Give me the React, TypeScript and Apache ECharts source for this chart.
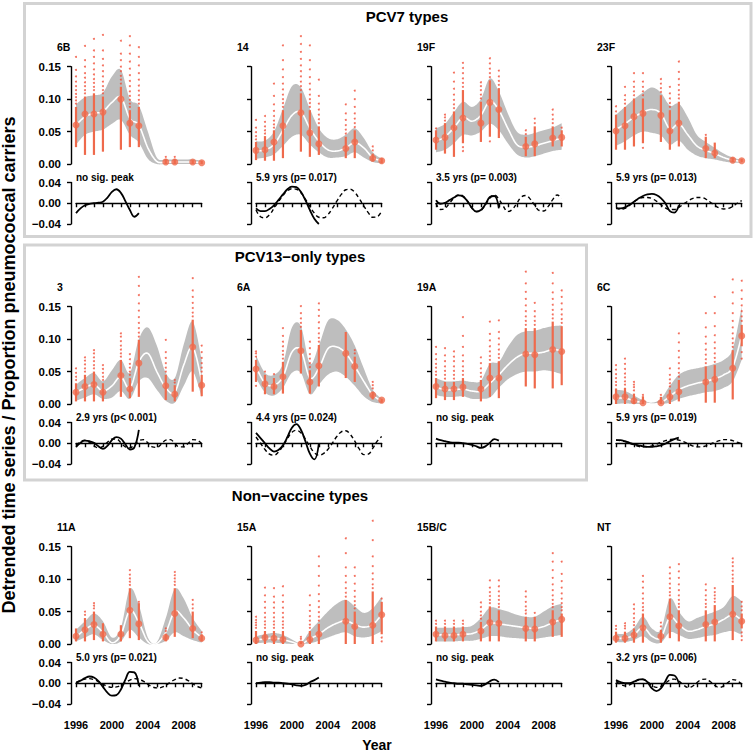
import React, { useEffect, useRef } from "react";
import * as echarts from "echarts";

// ---------- data ----------
const PANEL_NAMES = ["6B", "14", "19F", "23F", "3", "6A", "19A", "6C", "11A", "15A", "15B/C", "NT"];
const PEAK_TEXT = [
  "no sig. peak", "5.9 yrs (p= 0.017)", "3.5 yrs (p= 0.003)", "5.9 yrs (p= 0.013)",
  "2.9 yrs (p< 0.001)", "4.4 yrs (p= 0.024)", "no sig. peak", "5.9 yrs (p= 0.019)",
  "5.0 yrs (p= 0.021)", "no sig. peak", "no sig. peak", "3.2 yrs (p= 0.006)",
];
const SECTION_TITLES = ["PCV7 types", "PCV13\u2212only types", "Non\u2212vaccine types"];
const Y_TITLE = "Detrended time series / Proportion pneumococcal carriers";
const X_TITLE = "Year";

const OBS_YEARS = [1996, 1997, 1998, 1999, 2001, 2002, 2003, 2006, 2007, 2009, 2010];
const FIT_YEARS = [1996, 1997, 1998, 1999, 2000, 2001, 2002, 2003, 2004, 2005, 2006, 2007, 2008, 2009, 2010];
const SOLID_YEARS = [1996, 1996.5, 1997, 1997.5, 1998, 1998.5, 1999, 1999.5, 2000, 2000.5, 2001, 2001.5, 2002, 2002.5, 2003];
const DASH_YEARS = [1996, 1996.5, 1997, 1997.5, 1998, 1998.5, 1999, 1999.5, 2000, 2000.5, 2001, 2001.5, 2002, 2002.5, 2003,
  2003.5, 2004, 2004.5, 2005, 2005.5, 2006, 2006.5, 2007, 2007.5, 2008, 2008.5, 2009, 2009.5, 2010];
const X_LABEL_YEARS = [1996, 2000, 2004, 2008];

// yearly estimates (orange points) with interval bars
const POINT_MEAN = [
  [0.060, 0.077, 0.077, 0.080, 0.100, 0.063, 0.059, 0.003, 0.003, 0.003, 0.002],
  [0.021, 0.022, 0.034, 0.059, 0.079, 0.048, 0.031, 0.024, 0.034, 0.009, 0.005],
  [0.037, 0.041, 0.056, 0.071, 0.063, 0.095, 0.084, 0.027, 0.031, 0.040, 0.041],
  [0.051, 0.059, 0.073, 0.078, 0.075, 0.051, 0.063, 0.024, 0.017, 0.006, 0.005],
  [0.018, 0.027, 0.030, 0.018, 0.044, 0.023, 0.063, 0.028, 0.015, 0.088, 0.029],
  [0.054, 0.031, 0.027, 0.042, 0.082, 0.034, 0.059, 0.078, 0.058, 0.014, 0.006],
  [0.027, 0.023, 0.023, 0.026, 0.023, 0.040, 0.040, 0.077, 0.076, 0.084, 0.081],
  [0.011, 0.011, 0.005, 0.002, 0.002, 0.011, 0.019, 0.034, 0.038, 0.055, 0.105],
  [0.012, 0.022, 0.030, 0.015, 0.015, 0.052, 0.031, 0.010, 0.047, 0.024, 0.009],
  [0.006, 0.010, 0.009, 0.007, 0.000, 0.007, 0.015, 0.035, 0.027, 0.029, 0.045],
  [0.015, 0.013, 0.013, 0.015, 0.020, 0.033, 0.032, 0.024, 0.023, 0.034, 0.038],
  [0.009, 0.009, 0.014, 0.025, 0.012, 0.042, 0.028, 0.030, 0.034, 0.046, 0.035],
];
const BAR_LO = [
  [0.026, 0.014, 0.014, 0.019, 0.022, 0.026, 0.026, 0.000, 0.000, 0.000, 0.000],
  [0.006, 0.005, 0.005, 0.009, 0.019, 0.011, 0.014, 0.009, 0.009, 0.004, 0.001],
  [0.022, 0.016, 0.011, 0.032, 0.034, 0.042, 0.040, 0.012, 0.012, 0.027, 0.027],
  [0.022, 0.022, 0.027, 0.032, 0.034, 0.022, 0.027, 0.009, 0.009, 0.003, 0.003],
  [0.004, 0.004, 0.004, 0.004, 0.011, 0.009, 0.011, 0.006, 0.004, 0.019, 0.012],
  [0.034, 0.015, 0.015, 0.016, 0.047, 0.016, 0.027, 0.040, 0.034, 0.007, 0.002],
  [0.009, 0.006, 0.006, 0.011, 0.004, 0.011, 0.009, 0.027, 0.024, 0.024, 0.029],
  [0.000, 0.000, 0.000, 0.000, 0.000, 0.000, 0.004, 0.002, 0.002, 0.007, 0.089],
  [0.004, 0.004, 0.006, 0.004, 0.004, 0.009, 0.006, 0.004, 0.011, 0.009, 0.004],
  [0.000, 0.000, 0.000, 0.000, 0.000, 0.000, 0.000, 0.000, 0.000, 0.000, 0.015],
  [0.004, 0.004, 0.004, 0.004, 0.004, 0.004, 0.004, 0.004, 0.004, 0.011, 0.011],
  [0.002, 0.002, 0.002, 0.002, 0.002, 0.009, 0.004, 0.004, 0.004, 0.006, 0.024],
];
const BAR_HI = [
  [0.088, 0.104, 0.109, 0.104, 0.119, 0.083, 0.088, 0.008, 0.008, 0.006, 0.005],
  [0.034, 0.043, 0.052, 0.083, 0.109, 0.083, 0.058, 0.042, 0.052, 0.016, 0.009],
  [0.052, 0.063, 0.081, 0.114, 0.096, 0.129, 0.117, 0.042, 0.058, 0.058, 0.052],
  [0.076, 0.088, 0.101, 0.101, 0.106, 0.083, 0.096, 0.042, 0.033, 0.010, 0.008],
  [0.032, 0.045, 0.050, 0.032, 0.068, 0.040, 0.099, 0.045, 0.029, 0.130, 0.045],
  [0.068, 0.045, 0.040, 0.065, 0.114, 0.052, 0.091, 0.111, 0.073, 0.019, 0.008],
  [0.040, 0.034, 0.034, 0.040, 0.037, 0.063, 0.066, 0.117, 0.117, 0.127, 0.120],
  [0.024, 0.025, 0.016, 0.012, 0.011, 0.022, 0.037, 0.058, 0.060, 0.083, 0.122],
  [0.024, 0.040, 0.050, 0.032, 0.029, 0.086, 0.063, 0.016, 0.086, 0.050, 0.015],
  [0.020, 0.020, 0.020, 0.020, 0.004, 0.020, 0.031, 0.068, 0.050, 0.081, 0.065],
  [0.027, 0.027, 0.027, 0.027, 0.034, 0.058, 0.052, 0.042, 0.042, 0.052, 0.047],
  [0.019, 0.019, 0.024, 0.047, 0.022, 0.070, 0.052, 0.052, 0.060, 0.091, 0.047],
];
// individual small samples outside the bars, per observed year
const DOTS = [
  [[0.093, 0.098, 0.103, 0.108, 0.114, 0.12, 0.127, 0.135, 0.145, 0.165], [0.109, 0.114, 0.12, 0.126, 0.133, 0.14, 0.15, 0.16, 0.182], [0.114, 0.119, 0.125, 0.131, 0.138, 0.146, 0.155, 0.165, 0.175, 0.193], [0.109, 0.114, 0.12, 0.127, 0.135, 0.143, 0.152, 0.162, 0.175, 0.199], [0.124, 0.13, 0.136, 0.143, 0.15, 0.16, 0.17, 0.19], [0.088, 0.093, 0.099, 0.105, 0.112, 0.12, 0.128, 0.137, 0.147, 0.158, 0.17, 0.183, 0.197], [0.093, 0.099, 0.106, 0.113, 0.121, 0.13, 0.14, 0.152, 0.165, 0.18], [0.011], [0.011], [], []],
  [[0.038, 0.043, 0.049, 0.056, 0.068], [0.047, 0.052, 0.058, 0.065, 0.074], [0.056, 0.061, 0.067, 0.074, 0.082, 0.092, 0.105, 0.124], [0.088, 0.094, 0.1, 0.107, 0.115, 0.124, 0.134, 0.146, 0.16, 0.183], [0.114, 0.12, 0.127, 0.135, 0.143, 0.152, 0.162, 0.173, 0.185, 0.197], [0.088, 0.094, 0.1, 0.107, 0.115, 0.124, 0.134, 0.146, 0.16, 0.183], [0.063, 0.069, 0.076, 0.084, 0.093, 0.105, 0.13], [0.047, 0.053, 0.06, 0.068, 0.078, 0.092], [0.057, 0.063, 0.07, 0.078, 0.088, 0.1, 0.113], [0.021, 0.027], []],
  [[0.055], [0.067, 0.072, 0.076], [0.086, 0.092, 0.099, 0.107, 0.116, 0.127, 0.141], [0.02, 0.026, 0.119, 0.125, 0.132, 0.14, 0.148, 0.156], [0.101, 0.107, 0.114, 0.12, 0.126], [0.035, 0.134, 0.14, 0.147, 0.155, 0.163], [0.122, 0.128, 0.135, 0.144], [0.046, 0.052], [0.063, 0.07], [0.063, 0.069, 0.076, 0.084], [0.056]],
  [[0.081, 0.089], [0.093, 0.099, 0.106, 0.119], [0.106, 0.112, 0.119, 0.127, 0.14], [0.025, 0.106, 0.112, 0.119, 0.127, 0.14], [0.111, 0.117, 0.124, 0.131], [0.088, 0.094, 0.101, 0.109, 0.119], [0.101, 0.107, 0.114, 0.122, 0.131, 0.142, 0.158], [0.045], [], [], []],
  [[0.037, 0.042, 0.048, 0.055], [0.05, 0.055, 0.061, 0.067, 0.072], [0.055, 0.06, 0.066, 0.072, 0.078, 0.083], [0.037, 0.042, 0.048, 0.054, 0.06], [0.073, 0.078, 0.084, 0.09, 0.097, 0.104, 0.109], [0.045, 0.05, 0.056, 0.062, 0.069, 0.077], [0.104, 0.11, 0.117, 0.125, 0.134, 0.144, 0.155, 0.168, 0.182, 0.196], [0.05, 0.056, 0.063, 0.071, 0.08, 0.099], [0.033, 0.037], [0.135, 0.141, 0.148, 0.156, 0.165, 0.175, 0.194], [0.05, 0.056, 0.063, 0.071, 0.08, 0.09]],
  [[0.028, 0.073, 0.078, 0.081], [0.05], [0.046], [0.07, 0.076, 0.082, 0.089, 0.096, 0.105, 0.117], [0.119, 0.125, 0.132, 0.14, 0.151], [0.057, 0.063, 0.07, 0.077, 0.086, 0.096], [0.096, 0.102, 0.109, 0.117, 0.126, 0.136, 0.145, 0.155], [], [0.078, 0.083], [0.024, 0.029, 0.034], []],
  [[0.045, 0.05, 0.056, 0.062, 0.069, 0.077, 0.088], [0.039, 0.045, 0.051, 0.058, 0.066, 0.075, 0.086], [0.039, 0.045, 0.051, 0.058, 0.066, 0.073, 0.081], [0.045, 0.051, 0.058, 0.066, 0.075, 0.088, 0.105, 0.134], [0.042, 0.048, 0.055, 0.063, 0.072], [0.068, 0.074, 0.081, 0.089, 0.098, 0.108, 0.127], [0.071, 0.077, 0.084, 0.092, 0.101, 0.111, 0.129], [0.122, 0.128, 0.135, 0.143, 0.152, 0.162, 0.173, 0.186, 0.204], [0.122, 0.128, 0.135, 0.143, 0.156], [0.132, 0.138, 0.145, 0.153, 0.162, 0.172, 0.186, 0.202], [0.125, 0.131, 0.138, 0.146, 0.155, 0.165, 0.175]],
  [[0.029, 0.034, 0.04, 0.046, 0.053, 0.06], [0.03, 0.035, 0.041, 0.047, 0.054, 0.062, 0.07], [0.021, 0.026, 0.03, 0.034], [0.014], [0.014], [0.027, 0.032, 0.038, 0.045, 0.055], [0.042, 0.048, 0.055, 0.063, 0.072, 0.082, 0.095, 0.109], [0.063, 0.069, 0.076, 0.084, 0.093, 0.104, 0.118, 0.14], [0.065, 0.071, 0.078, 0.086, 0.095, 0.106, 0.12, 0.14, 0.165], [0.088, 0.094, 0.101, 0.109, 0.118, 0.128, 0.14, 0.155, 0.172, 0.192], [0.07, 0.08, 0.128, 0.135, 0.143, 0.152, 0.162, 0.175, 0.19]],
  [[], [0.045, 0.05], [0.055, 0.059, 0.063], [], [], [0.091, 0.096, 0.101, 0.107, 0.114], [0.065], [0.02, 0.024], [0.091, 0.096, 0.101, 0.106, 0.111], [0.055, 0.061, 0.068], [0.018]],
  [[0.025, 0.029, 0.033, 0.037, 0.042], [0.025, 0.03, 0.035, 0.041, 0.048, 0.056, 0.065, 0.075, 0.087], [0.025, 0.03, 0.035, 0.041, 0.048, 0.056, 0.064, 0.073, 0.086], [0.025, 0.03, 0.035, 0.041, 0.048, 0.056, 0.065, 0.075, 0.089], [0.008, 0.011], [0.025, 0.03, 0.036, 0.043, 0.051, 0.06, 0.075], [0.036, 0.042, 0.049, 0.057, 0.066, 0.077, 0.09, 0.105, 0.12, 0.135], [0.073, 0.079, 0.086, 0.095, 0.105, 0.118, 0.14, 0.163], [0.055, 0.06, 0.066, 0.073, 0.082, 0.093, 0.105, 0.118], [0.086, 0.092, 0.1, 0.109, 0.12, 0.135, 0.16, 0.19], [0.004, 0.01, 0.07]],
  [[0.031, 0.036], [0.031, 0.036], [0.031, 0.036], [0.031, 0.036], [0.039, 0.044, 0.05, 0.057, 0.064], [0.063, 0.068, 0.074, 0.08, 0.087, 0.098], [0.057, 0.062, 0.068, 0.074, 0.081, 0.089, 0.098], [0.047, 0.052, 0.058, 0.065, 0.073, 0.081], [0.048], [0.057, 0.062, 0.068, 0.075, 0.083, 0.092, 0.102, 0.114, 0.127, 0.14], [0.052, 0.057, 0.063, 0.07, 0.078, 0.087, 0.097, 0.108, 0.127]],
  [[0.023, 0.028], [0.024, 0.028, 0.032], [0.029, 0.034, 0.04, 0.047, 0.054, 0.061], [0.052, 0.057, 0.063, 0.07, 0.078, 0.087, 0.096, 0.105], [0.027, 0.033], [0.075, 0.08, 0.086, 0.093, 0.101, 0.109, 0.118], [0.057, 0.062, 0.068, 0.075, 0.083, 0.092, 0.102, 0.112, 0.123], [0.057, 0.062, 0.068, 0.075, 0.083, 0.092], [0.065, 0.07, 0.075, 0.08, 0.086], [0.096, 0.101, 0.107, 0.113, 0.12, 0.126, 0.132], [0.006, 0.012, 0.018, 0.052, 0.058, 0.065]],
];
// smooth fit (white line) and its band, at FIT_YEARS
const BAND_MID = [
  [0.060, 0.073, 0.078, 0.081, 0.095, 0.103, 0.070, 0.060, 0.025, 0.004, 0.003, 0.003, 0.003, 0.003, 0.002],
  [0.020, 0.022, 0.030, 0.052, 0.075, 0.080, 0.055, 0.035, 0.022, 0.020, 0.025, 0.033, 0.025, 0.010, 0.005],
  [0.035, 0.042, 0.056, 0.072, 0.066, 0.075, 0.097, 0.083, 0.055, 0.030, 0.026, 0.028, 0.032, 0.036, 0.040],
  [0.053, 0.062, 0.072, 0.080, 0.084, 0.078, 0.054, 0.062, 0.045, 0.028, 0.021, 0.016, 0.010, 0.006, 0.004],
  [0.018, 0.025, 0.030, 0.020, 0.028, 0.042, 0.024, 0.065, 0.078, 0.050, 0.025, 0.018, 0.060, 0.088, 0.035],
  [0.057, 0.032, 0.029, 0.042, 0.080, 0.083, 0.040, 0.055, 0.085, 0.088, 0.078, 0.058, 0.035, 0.014, 0.005],
  [0.026, 0.022, 0.022, 0.023, 0.020, 0.020, 0.032, 0.045, 0.060, 0.072, 0.078, 0.078, 0.080, 0.084, 0.082],
  [0.009, 0.009, 0.005, 0.002, 0.000, 0.002, 0.012, 0.022, 0.028, 0.032, 0.035, 0.039, 0.045, 0.057, 0.105],
  [0.011, 0.022, 0.029, 0.018, 0.002, 0.014, 0.052, 0.033, 0.004, 0.001, 0.018, 0.050, 0.040, 0.022, 0.010],
  [0.006, 0.008, 0.009, 0.007, 0.003, 0.000, 0.008, 0.015, 0.025, 0.032, 0.036, 0.030, 0.026, 0.030, 0.045],
  [0.014, 0.014, 0.014, 0.015, 0.016, 0.022, 0.032, 0.031, 0.029, 0.027, 0.025, 0.024, 0.027, 0.033, 0.038],
  [0.009, 0.009, 0.014, 0.026, 0.012, 0.010, 0.041, 0.030, 0.020, 0.022, 0.027, 0.031, 0.038, 0.045, 0.037],
];
const BAND_LO = [
  [0.030, 0.045, 0.050, 0.053, 0.062, 0.068, 0.045, 0.033, 0.008, 0.000, 0.000, 0.000, 0.000, 0.000, 0.000],
  [0.008, 0.010, 0.015, 0.028, 0.042, 0.045, 0.030, 0.018, 0.010, 0.010, 0.012, 0.018, 0.010, 0.003, 0.001],
  [0.018, 0.022, 0.032, 0.045, 0.044, 0.050, 0.062, 0.052, 0.032, 0.015, 0.010, 0.012, 0.016, 0.020, 0.022],
  [0.028, 0.035, 0.044, 0.050, 0.048, 0.044, 0.030, 0.036, 0.022, 0.013, 0.009, 0.007, 0.004, 0.002, 0.002],
  [0.005, 0.010, 0.015, 0.008, 0.010, 0.020, 0.008, 0.035, 0.040, 0.022, 0.005, 0.002, 0.028, 0.050, 0.010],
  [0.040, 0.018, 0.013, 0.025, 0.048, 0.048, 0.015, 0.030, 0.045, 0.050, 0.042, 0.028, 0.012, 0.003, 0.001],
  [0.014, 0.011, 0.011, 0.012, 0.008, 0.008, 0.010, 0.025, 0.038, 0.046, 0.050, 0.050, 0.052, 0.050, 0.046],
  [0.000, 0.001, 0.000, 0.000, 0.000, 0.000, 0.002, 0.008, 0.012, 0.015, 0.018, 0.020, 0.025, 0.035, 0.068],
  [0.004, 0.010, 0.015, 0.006, 0.000, 0.004, 0.022, 0.010, 0.000, 0.000, 0.005, 0.018, 0.012, 0.006, 0.002],
  [0.001, 0.002, 0.002, 0.001, 0.000, 0.000, 0.001, 0.005, 0.010, 0.015, 0.018, 0.012, 0.010, 0.013, 0.020],
  [0.004, 0.004, 0.004, 0.005, 0.005, 0.008, 0.012, 0.012, 0.010, 0.009, 0.008, 0.008, 0.010, 0.012, 0.014],
  [0.003, 0.003, 0.006, 0.012, 0.003, 0.002, 0.018, 0.014, 0.008, 0.009, 0.012, 0.014, 0.018, 0.020, 0.014],
];
const BAND_HI = [
  [0.092, 0.103, 0.106, 0.110, 0.135, 0.145, 0.100, 0.090, 0.050, 0.010, 0.007, 0.007, 0.007, 0.007, 0.005],
  [0.035, 0.036, 0.050, 0.085, 0.120, 0.118, 0.085, 0.055, 0.040, 0.038, 0.045, 0.055, 0.040, 0.018, 0.008],
  [0.055, 0.062, 0.080, 0.096, 0.088, 0.100, 0.132, 0.112, 0.078, 0.050, 0.045, 0.048, 0.052, 0.056, 0.063],
  [0.076, 0.088, 0.100, 0.110, 0.118, 0.110, 0.090, 0.093, 0.072, 0.045, 0.034, 0.025, 0.016, 0.010, 0.006],
  [0.030, 0.040, 0.048, 0.035, 0.052, 0.068, 0.048, 0.100, 0.118, 0.090, 0.048, 0.040, 0.092, 0.127, 0.068],
  [0.075, 0.048, 0.045, 0.062, 0.118, 0.120, 0.062, 0.090, 0.128, 0.130, 0.115, 0.090, 0.055, 0.022, 0.008],
  [0.040, 0.035, 0.035, 0.036, 0.034, 0.036, 0.062, 0.065, 0.088, 0.106, 0.112, 0.113, 0.117, 0.120, 0.121],
  [0.022, 0.020, 0.013, 0.006, 0.002, 0.008, 0.028, 0.045, 0.052, 0.055, 0.058, 0.062, 0.068, 0.085, 0.150],
  [0.022, 0.035, 0.047, 0.035, 0.010, 0.025, 0.085, 0.060, 0.010, 0.003, 0.040, 0.085, 0.070, 0.040, 0.020],
  [0.012, 0.015, 0.017, 0.014, 0.007, 0.002, 0.020, 0.035, 0.050, 0.062, 0.068, 0.058, 0.048, 0.055, 0.073],
  [0.025, 0.025, 0.025, 0.026, 0.028, 0.040, 0.056, 0.054, 0.050, 0.045, 0.042, 0.042, 0.050, 0.058, 0.062],
  [0.016, 0.016, 0.025, 0.042, 0.024, 0.022, 0.070, 0.050, 0.035, 0.040, 0.045, 0.050, 0.057, 0.074, 0.066],
];
// detrended series (solid, SOLID_YEARS) and fitted periodic component (dashed, DASH_YEARS)
const SOLID = [
  [-0.019, -0.010, -0.004, -0.001, 0.000, 0.001, 0.003, 0.011, 0.022, 0.027, 0.020, 0.004, -0.013, -0.026, -0.019],
  [-0.010, -0.015, -0.015, -0.011, -0.004, 0.006, 0.017, 0.027, 0.032, 0.031, 0.022, 0.006, -0.013, -0.030, -0.040],
  [0.006, -0.001, 0.001, 0.006, 0.011, 0.015, 0.013, 0.004, -0.009, -0.016, -0.013, -0.002, 0.012, 0.014, -0.010],
  [-0.010, -0.010, -0.008, -0.003, 0.003, 0.009, 0.014, 0.017, 0.018, 0.016, 0.010, 0.000, -0.015, -0.018, -0.004],
  [-0.007, 0.001, 0.005, 0.004, 0.001, -0.006, -0.011, -0.005, 0.006, 0.012, 0.009, -0.002, -0.012, -0.008, 0.026],
  [0.020, 0.010, 0.000, -0.010, -0.016, -0.013, -0.004, 0.012, 0.030, 0.037, 0.026, 0.004, -0.020, -0.031, 0.000],
  [0.009, 0.006, 0.004, 0.002, 0.001, 0.001, 0.000, -0.001, -0.003, -0.006, -0.009, -0.006, 0.001, 0.008, 0.005],
  [0.006, 0.006, 0.004, 0.001, -0.002, -0.004, -0.006, -0.007, -0.007, -0.006, -0.004, -0.001, 0.004, 0.008, 0.011],
  [0.001, 0.005, 0.010, 0.013, 0.011, 0.004, -0.007, -0.018, -0.024, -0.023, -0.012, 0.007, 0.022, 0.021, -0.005],
  [0.000, 0.001, 0.002, 0.002, 0.001, 0.001, 0.000, -0.001, -0.002, -0.004, -0.005, -0.003, 0.002, 0.006, 0.011],
  [0.0075, 0.005, 0.003, 0.001, 0.000, -0.001, -0.001, -0.002, -0.003, -0.004, -0.005, -0.002, 0.004, 0.007, 0.002],
  [0.006, 0.002, 0.000, 0.000, 0.003, 0.007, 0.008, 0.002, -0.010, -0.015, -0.010, 0.004, 0.016, 0.015, 0.000],
];
const DASHED = [
  null,
  [-0.013, -0.026, -0.028, -0.022, -0.010, 0.003, 0.015, 0.024, 0.028, 0.027, 0.020, 0.008, -0.006, -0.019, -0.027, -0.028, -0.022, -0.010, 0.004, 0.017, 0.026, 0.027, 0.021, 0.009, -0.005, -0.018, -0.027, -0.026, -0.015],
  [0.000, -0.012, -0.010, 0.000, 0.010, 0.016, 0.014, 0.004, -0.009, -0.016, -0.014, -0.003, 0.010, 0.016, 0.008, -0.006, -0.016, -0.012, 0.000, 0.012, 0.015, 0.008, -0.004, -0.014, -0.015, -0.006, 0.007, 0.016, 0.010],
  [-0.008, -0.012, -0.010, -0.004, 0.003, 0.008, 0.011, 0.011, 0.009, 0.004, -0.003, -0.009, -0.012, -0.012, -0.008, -0.002, 0.004, 0.009, 0.011, 0.011, 0.008, 0.002, -0.004, -0.009, -0.011, -0.010, -0.006, 0.000, 0.005],
  [-0.004, 0.003, 0.006, 0.002, -0.005, -0.009, -0.006, 0.002, 0.008, 0.008, 0.001, -0.007, -0.009, -0.003, 0.005, 0.007, 0.001, -0.007, -0.008, -0.002, 0.006, 0.007, 0.000, -0.007, -0.007, 0.000, 0.007, 0.006, -0.001],
  [0.012, 0.000, -0.012, -0.021, -0.023, -0.017, -0.005, 0.009, 0.021, 0.025, 0.020, 0.008, -0.006, -0.018, -0.023, -0.020, -0.012, 0.000, 0.013, 0.022, 0.024, 0.017, 0.004, -0.011, -0.022, -0.021, -0.010, 0.004, 0.013],
  null,
  [0.006, 0.005, 0.003, 0.000, -0.003, -0.006, -0.007, -0.007, -0.005, -0.002, 0.002, 0.005, 0.007, 0.008, 0.006, 0.003, -0.001, -0.005, -0.007, -0.007, -0.005, -0.002, 0.002, 0.005, 0.007, 0.007, 0.005, 0.002, -0.001],
  [0.001, 0.005, 0.008, 0.009, 0.007, 0.003, -0.002, -0.006, -0.008, -0.007, -0.004, 0.001, 0.006, 0.009, 0.008, 0.004, -0.002, -0.007, -0.009, -0.008, -0.004, 0.002, 0.007, 0.010, 0.009, 0.005, -0.001, -0.006, -0.009],
  null,
  null,
  [0.003, -0.002, -0.005, -0.003, 0.002, 0.006, 0.007, 0.003, -0.004, -0.008, -0.006, 0.000, 0.006, 0.008, 0.004, -0.003, -0.008, -0.006, 0.001, 0.007, 0.008, 0.003, -0.004, -0.008, -0.005, 0.002, 0.007, 0.005, -0.002],
];

// ---------- layout & style ----------
const FONT = '"Liberation Sans", Arial, Helvetica, sans-serif';
const ORANGE = "#EF6A4C";
const DOT_COLOR = "#F04A33";
const BAND_COLOR = "#BEBEBE";
const BOX_COLOR = "#D3D3D3";
const COL_X0 = 76;
const COL_STEP = 180;
const PLOT_W = 125.7;
const ROW_STEP = 240;
const TOP_Y = 66.7;
const TOP_H = 97.3;
const BOT_Y = 182.5;
const BOT_H = 41.5;

const axisLineStyle = { show: true, lineStyle: { color: "#000", width: 1.4 } };
const axisTickStyle = { show: true, length: 4, lineStyle: { color: "#000", width: 1.4 } };

// Catmull-Rom rendering of a pixel polyline (drawing only)
function splinePx(pts: number[][], seg = 10): number[][] {
  const out: number[][] = [];
  const n = pts.length;
  for (let i = 0; i < n - 1; i++) {
    const p0 = pts[Math.max(i - 1, 0)];
    const p1 = pts[i];
    const p2 = pts[i + 1];
    const p3 = pts[Math.min(i + 2, n - 1)];
    for (let s = 0; s < seg; s++) {
      const t = s / seg;
      const t2 = t * t;
      const t3 = t2 * t;
      const f = (a: number, b: number, c: number, d: number) =>
        0.5 * (2 * b + (-a + c) * t + (2 * a - 5 * b + 4 * c - d) * t2 + (-a + 3 * b - 3 * c + d) * t3);
      out.push([f(p0[0], p1[0], p2[0], p3[0]), f(p0[1], p1[1], p2[1], p3[1])]);
    }
  }
  out.push(pts[n - 1]);
  return out;
}

function buildOption() {
  const grid: any[] = [];
  const xAxis: any[] = [];
  const yAxis: any[] = [];
  const series: any[] = [];
  const graphic: any[] = [];

  PANEL_NAMES.forEach((name, i) => {
    const r = Math.floor(i / 4);
    const c = i % 4;
    const left = COL_X0 + c * COL_STEP;
    const gTop = 2 * i;
    const gBot = 2 * i + 1;
    grid.push({ left, top: TOP_Y + r * ROW_STEP, width: PLOT_W, height: TOP_H });
    grid.push({ left, top: BOT_Y + r * ROW_STEP, width: PLOT_W, height: BOT_H });

    xAxis.push({ type: "value", gridIndex: gTop, min: 1996, max: 2010, show: false });
    xAxis.push({
      type: "value", gridIndex: gBot, min: 1996, max: 2010, interval: 1, offset: 4.3,
      axisLine: axisLineStyle, axisTick: axisTickStyle, splitLine: { show: false },
      axisLabel: {
        show: r === 2, margin: 11, color: "#000", fontFamily: FONT, fontWeight: "bold", fontSize: 11,
        formatter: (v: number) => (X_LABEL_YEARS.indexOf(Math.round(v)) >= 0 ? String(Math.round(v)) : ""),
      },
    });
    yAxis.push({
      type: "value", gridIndex: gTop, min: 0, max: 0.15, interval: 0.05, offset: 5,
      axisLine: axisLineStyle, axisTick: axisTickStyle, splitLine: { show: false },
      axisLabel: {
        show: c === 0, margin: 10, color: "#000", fontFamily: FONT, fontWeight: "bold", fontSize: 11.5,
        showMinLabel: true, showMaxLabel: true,
        formatter: (v: number) => v.toFixed(2),
      },
    });
    yAxis.push({
      type: "value", gridIndex: gBot, min: -0.04, max: 0.04, interval: 0.04, offset: 5,
      axisLine: axisLineStyle, axisTick: axisTickStyle, splitLine: { show: false },
      axisLabel: {
        show: c === 0, margin: 10, color: "#000", fontFamily: FONT, fontWeight: "bold", fontSize: 11.5,
        showMinLabel: true, showMaxLabel: true,
        formatter: (v: number) => (Math.abs(v) < 1e-9 ? "0.00" : v < 0 ? "\u2212" + Math.abs(v).toFixed(2) : v.toFixed(2)),
      },
    });

    const common = { xAxisIndex: gTop, yAxisIndex: gTop, clip: false, silent: true, animation: false };
    // band + white fitted line (drawn once, from all FIT_YEARS rows, through the axes' coord())
    series.push({
      ...common, type: "custom",
      data: FIT_YEARS.map((x, k) => [x, BAND_LO[i][k], BAND_HI[i][k], BAND_MID[i][k]]),
      encode: { x: 0, y: [1, 2, 3] },
      renderItem: (params: any, api: any) => {
        if (params.dataIndexInside !== 0) return null;
        const n = params.dataInsideLength;
        const up: number[][] = [];
        const lo: number[][] = [];
        const mid: number[][] = [];
        for (let k = 0; k < n; k++) {
          const x = api.value(0, k);
          lo.push(api.coord([x, api.value(1, k)]));
          up.push(api.coord([x, api.value(2, k)]));
          mid.push(api.coord([x, api.value(3, k)]));
        }
        const upS = splinePx(up);
        const loS = splinePx(lo).reverse();
        return {
          type: "group",
          children: [
            { type: "polygon", shape: { points: upS.concat(loS) }, style: { fill: BAND_COLOR, stroke: "none" } },
            { type: "polyline", shape: { points: splinePx(mid) }, style: { stroke: "#FFFFFF", lineWidth: 1.6, fill: "none" } },
          ],
        };
      },
      z: 1,
    });
    // small sample dots
    const dotData: number[][] = [];
    DOTS[i].forEach((arr, k) => arr.forEach((v) => dotData.push([OBS_YEARS[k], v])));
    series.push({
      ...common, type: "scatter", symbol: "circle", symbolSize: 2, data: dotData,
      itemStyle: { color: DOT_COLOR }, z: 3,
    });
    // interval bars
    series.push({
      ...common, type: "custom",
      data: OBS_YEARS.map((x, k) => [x, BAR_LO[i][k], BAR_HI[i][k]]),
      encode: { x: 0, y: [1, 2] },
      renderItem: (_p: any, api: any) => {
        const a = api.coord([api.value(0), api.value(1)]);
        const b = api.coord([api.value(0), api.value(2)]);
        return {
          type: "line",
          shape: { x1: a[0], y1: a[1], x2: b[0], y2: b[1] },
          style: { stroke: ORANGE, lineWidth: 2.2 },
        };
      },
      z: 4,
    });
    // points
    series.push({
      ...common, type: "scatter", symbol: "circle", symbolSize: 7,
      data: OBS_YEARS.map((x, k) => [x, POINT_MEAN[i][k]]),
      itemStyle: { color: ORANGE }, z: 5,
    });
    // bottom: detrended solid and periodic dashed
    series.push({
      type: "line", xAxisIndex: gBot, yAxisIndex: gBot, clip: false, silent: true, smooth: 0.4, symbol: "none",
      data: SOLID_YEARS.map((x, k) => [x, SOLID[i][k]]),
      lineStyle: { color: "#000", width: 1.8 }, z: 3,
    });
    const d = DASHED[i];
    if (d) {
      series.push({
        type: "line", xAxisIndex: gBot, yAxisIndex: gBot, clip: false, silent: true, smooth: 0.4, symbol: "none",
        data: DASH_YEARS.map((x, k) => [x, d[k]]),
        lineStyle: { color: "#000", width: 1.4, type: [4, 3] }, z: 2,
      });
    }

    graphic.push({
      type: "text", x: 57 + c * COL_STEP, y: 47 + r * ROW_STEP,
      style: { text: name, fill: "#000", font: `bold 10.5px ${FONT}`, align: "left", verticalAlign: "middle" },
    });
    graphic.push({
      type: "text", x: COL_X0 + c * COL_STEP, y: 177.5 + r * ROW_STEP,
      style: { text: PEAK_TEXT[i], fill: "#000", font: `bold 10px ${FONT}`, align: "left", verticalAlign: "middle" },
    });
  });

  graphic.push({
    type: "rect", z: -1, shape: { x: 24.5, y: 3.5, width: 726.5, height: 233 },
    style: { fill: "transparent", stroke: BOX_COLOR, lineWidth: 3 },
  });
  graphic.push({
    type: "rect", z: -1, shape: { x: 24.5, y: 245, width: 562, height: 235 },
    style: { fill: "transparent", stroke: BOX_COLOR, lineWidth: 3 },
  });
  const secPos = [[407, 16], [300, 256], [300, 495]];
  SECTION_TITLES.forEach((t, k) => {
    graphic.push({
      type: "text", x: secPos[k][0], y: secPos[k][1],
      style: { text: t, fill: "#000", font: `bold 15px ${FONT}`, align: "center", verticalAlign: "middle" },
    });
  });
  graphic.push({
    type: "text", x: 377, y: 745,
    style: { text: X_TITLE, fill: "#000", font: `bold 14px ${FONT}`, align: "center", verticalAlign: "middle" },
  });
  graphic.push({
    type: "text", x: 9, y: 365, rotation: Math.PI / 2,
    style: { text: Y_TITLE, fill: "#000", font: `bold 18px ${FONT}`, align: "center", verticalAlign: "middle" },
  });

  return {
    animation: false,
    backgroundColor: "#FFFFFF",
    grid, xAxis, yAxis, series, graphic,
  };
}

export default function App() {
  const ref = useRef<HTMLDivElement>(null);
  useEffect(() => {
    document.body.style.margin = "0";
    if (!ref.current) return;
    const chart = echarts.init(ref.current, undefined, { renderer: "svg" });
    chart.setOption(buildOption() as any);
    return () => chart.dispose();
  }, []);
  return <div ref={ref} style={{ width: 755, height: 752, overflow: "hidden" }} />;
}
